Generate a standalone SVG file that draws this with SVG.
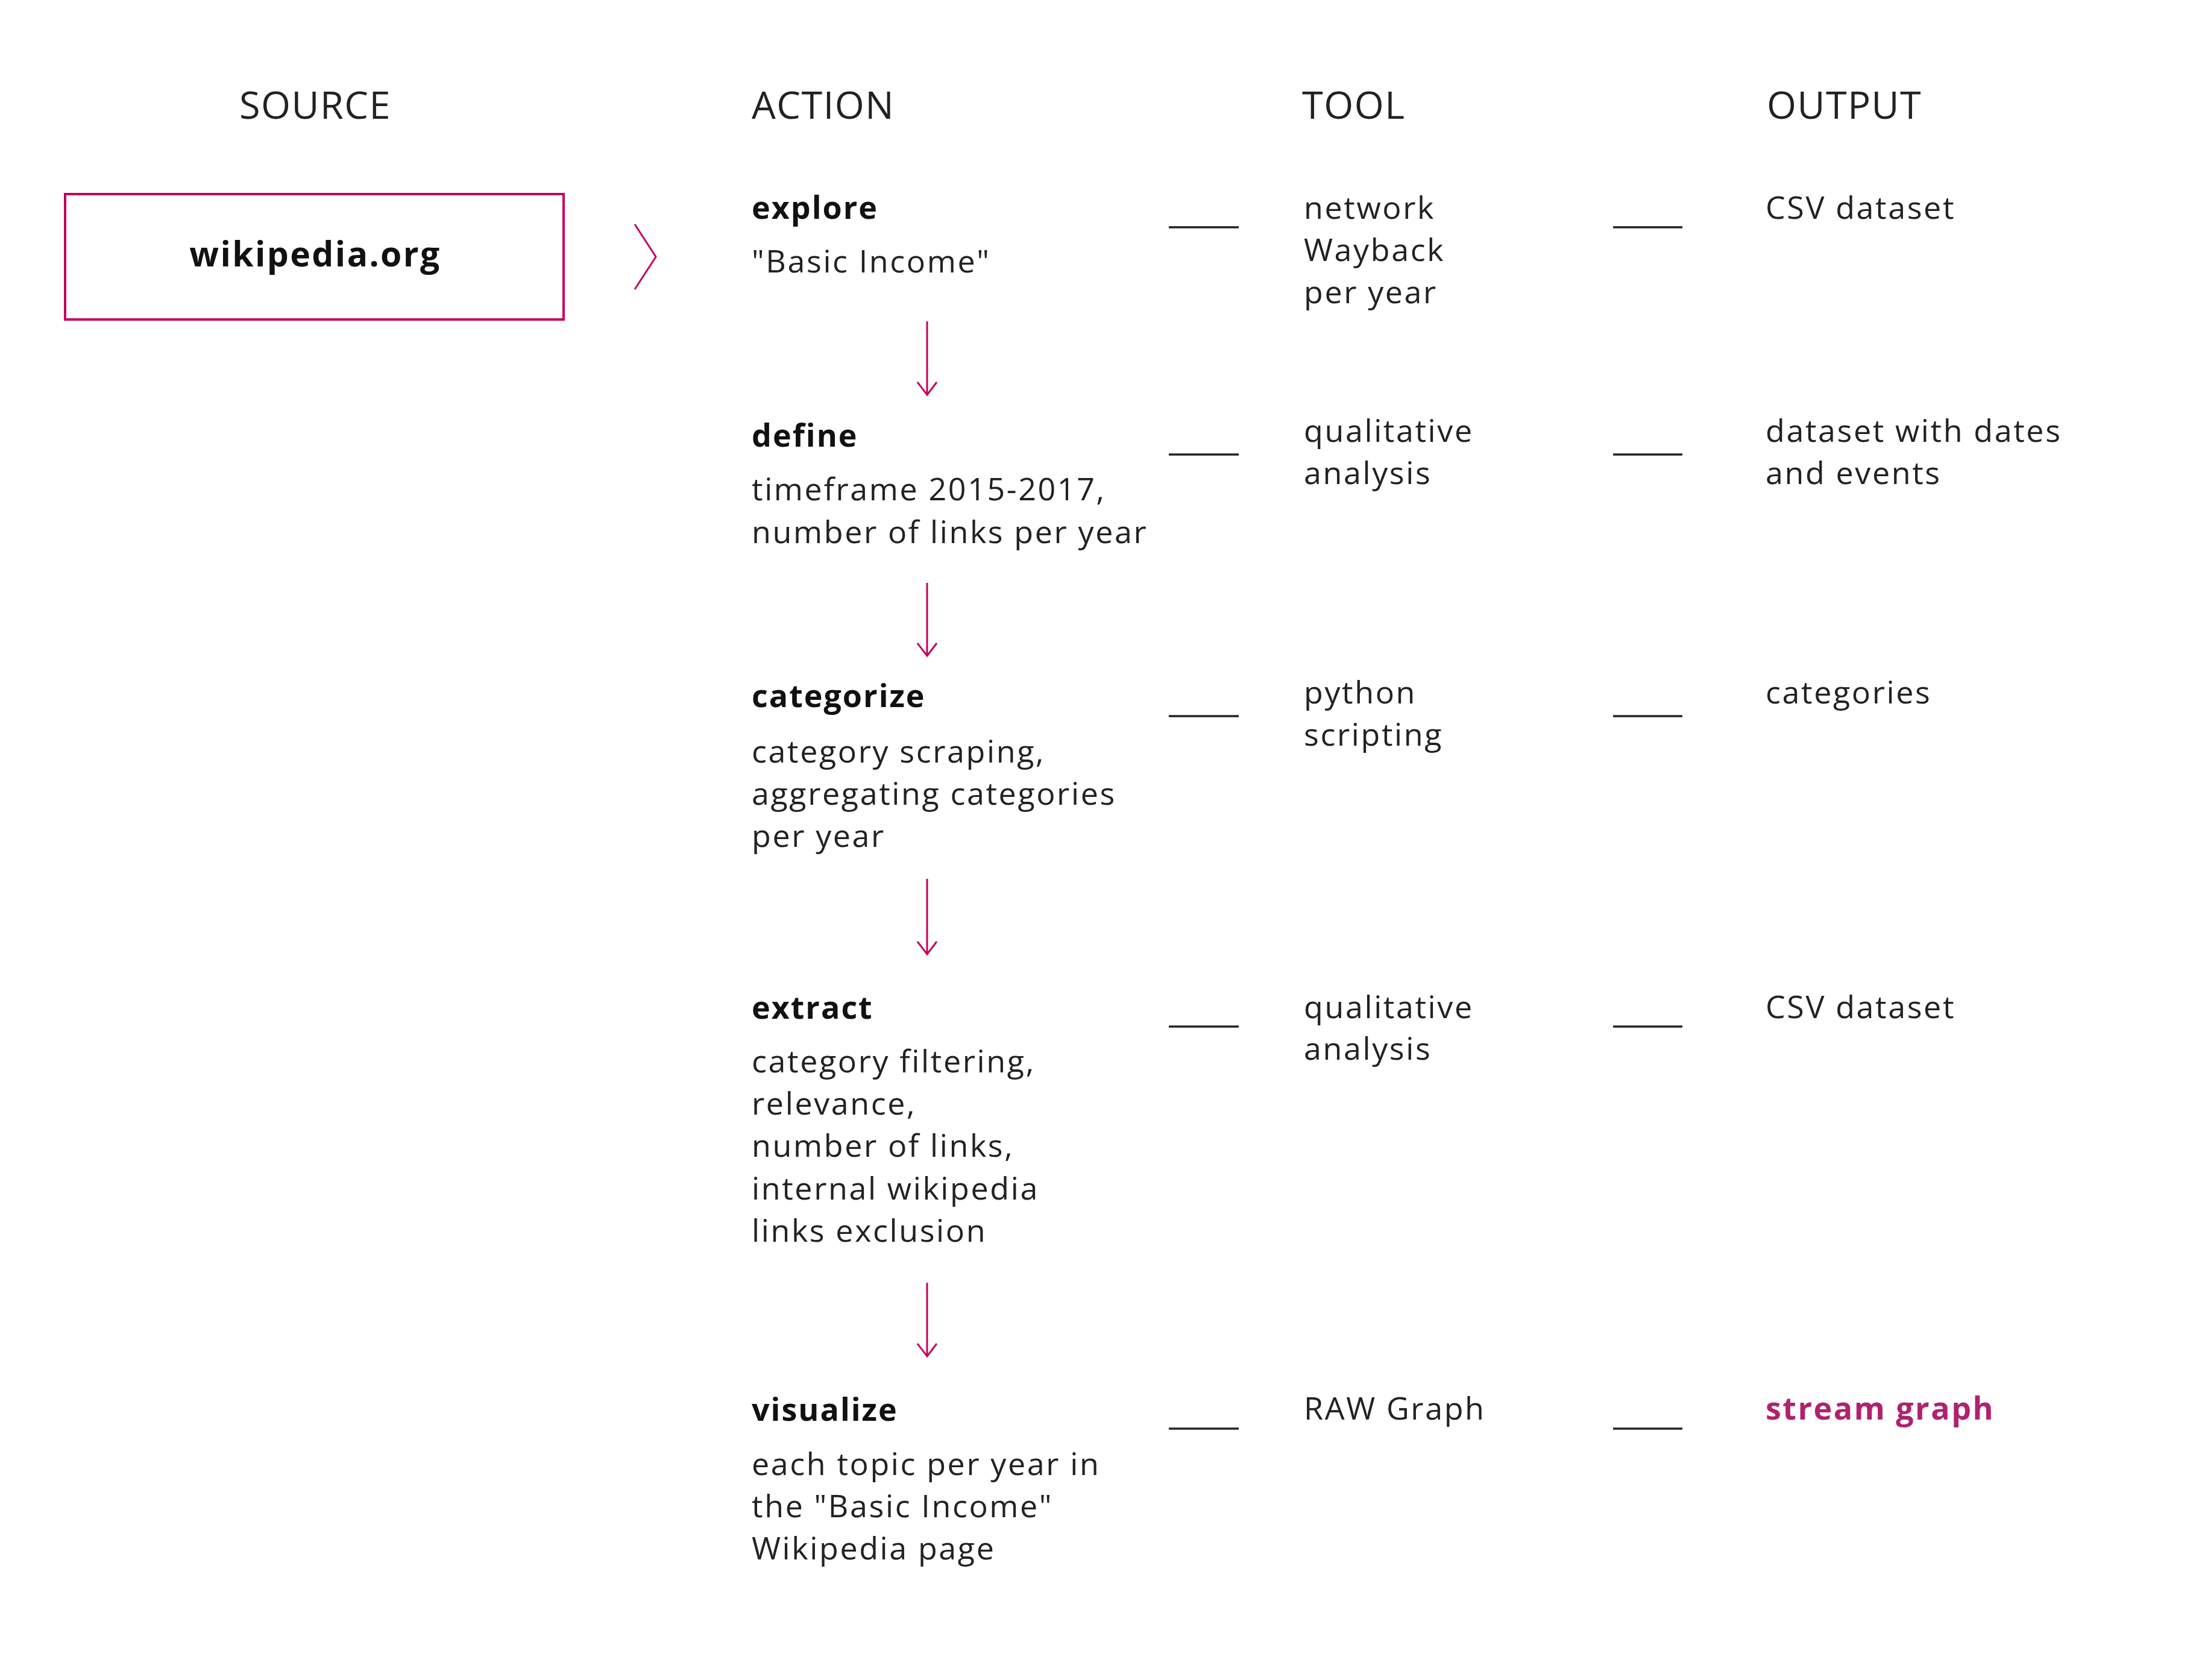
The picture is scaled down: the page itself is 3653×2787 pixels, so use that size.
<svg xmlns="http://www.w3.org/2000/svg" width="3653" height="2787" viewBox="0 0 3653 2787">
<style>
text{font-family:"Open Sans","Noto Sans","Liberation Sans",sans-serif;}
.hdr{font-size:63px;fill:#222;letter-spacing:1.5px;}
.ttl{font-size:52px;font-weight:700;fill:#111;letter-spacing:2px;}
.txt{font-size:52px;fill:#222;letter-spacing:2.6px;}
.src{font-size:57px;font-weight:700;fill:#111;letter-spacing:2.4px;}
.hi{font-size:52px;font-weight:700;fill:#B0226E;letter-spacing:2.5px;}
.dash{stroke:#222;stroke-width:3.5;fill:none;}
.arr{stroke:#C4005F;stroke-width:3;fill:none;}
</style>
<rect width="3653" height="2787" fill="#fff"/>
<g id="headers">
<text class="hdr" x="523" y="197" text-anchor="middle">SOURCE</text>
<text class="hdr" x="1247" y="197">ACTION</text>
<text class="hdr" x="2160" y="197">TOOL</text>
<text class="hdr" x="2931" y="197">OUTPUT</text>
</g>
<g id="source">
<rect x="108" y="322" width="827" height="208" fill="none" stroke="#C4005F" stroke-width="4"/>
<text class="src" x="523" y="442" text-anchor="middle">wikipedia.org</text>
</g>
<g id="explore">
<text class="ttl" x="1247" y="363">explore</text>
<text class="txt" x="1247" y="452">"Basic Income"</text>
</g>
<g id="define">
<text class="ttl" x="1247" y="741">define</text>
<text class="txt" x="1247" y="830">timeframe 2015-2017,</text>
<text class="txt" x="1247" y="901">number of links per year</text>
</g>
<g id="categorize">
<text class="ttl" x="1247" y="1173">categorize</text>
<text class="txt" x="1247" y="1265">category scraping,</text>
<text class="txt" x="1247" y="1335">aggregating categories</text>
<text class="txt" x="1247" y="1405">per year</text>
</g>
<g id="extract">
<text class="ttl" x="1247" y="1690">extract</text>
<text class="txt" x="1247" y="1779">category filtering,</text>
<text class="txt" x="1247" y="1849">relevance,</text>
<text class="txt" x="1247" y="1919">number of links,</text>
<text class="txt" x="1247" y="1990">internal wikipedia</text>
<text class="txt" x="1247" y="2060">links exclusion</text>
</g>
<g id="visualize">
<text class="ttl" x="1247" y="2357">visualize</text>
<text class="txt" x="1247" y="2447">each topic per year in</text>
<text class="txt" x="1247" y="2517">the "Basic Income"</text>
<text class="txt" x="1247" y="2587">Wikipedia page</text>
</g>
<g id="tools">
<text class="txt" x="2163" y="363">network</text>
<text class="txt" x="2163" y="433">Wayback</text>
<text class="txt" x="2163" y="503">per year</text>
<text class="txt" x="2163" y="733">qualitative</text>
<text class="txt" x="2163" y="803">analysis</text>
<text class="txt" x="2163" y="1167">python</text>
<text class="txt" x="2163" y="1237">scripting</text>
<text class="txt" x="2163" y="1689">qualitative</text>
<text class="txt" x="2163" y="1758">analysis</text>
<text class="txt" x="2163" y="2355">RAW Graph</text>
</g>
<g id="outputs">
<text class="txt" x="2929" y="363">CSV dataset</text>
<text class="txt" x="2929" y="733">dataset with dates</text>
<text class="txt" x="2929" y="803">and events</text>
<text class="txt" x="2929" y="1167">categories</text>
<text class="txt" x="2929" y="1689">CSV dataset</text>
<text class="hi" x="2929" y="2355">stream graph</text>
</g>
<g id="connectors">
<polyline class="arr" points="1053,372 1088,426 1053,480" stroke-width="4"/>
<path class="arr" d="M1538,533V655M1522,634L1538,655L1554,634"/>
<path class="arr" d="M1538,967V1088M1522,1067L1538,1088L1554,1067"/>
<path class="arr" d="M1538,1458V1583M1522,1562L1538,1583L1554,1562"/>
<path class="arr" d="M1538,2128V2250M1522,2229L1538,2250L1554,2229"/>
<path class="dash" d="M1939,377H2055M2676,377H2791"/>
<path class="dash" d="M1939,754H2055M2676,754H2791"/>
<path class="dash" d="M1939,1188H2055M2676,1188H2791"/>
<path class="dash" d="M1939,1703H2055M2676,1703H2791"/>
<path class="dash" d="M1939,2370H2055M2676,2370H2791"/>
</g>
</svg>
